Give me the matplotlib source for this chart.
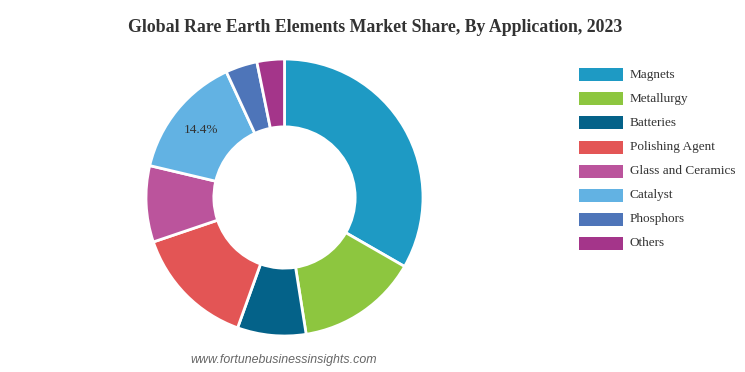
import matplotlib
matplotlib.use("Agg")
import matplotlib.pyplot as plt
from matplotlib.patches import Rectangle
import numpy as np

# data
labels = ["Magnets", "Metallurgy", "Batteries", "Polishing Agent",
          "Glass and Ceramics", "Catalyst", "Phosphors", "Others"]
shares = [33.3, 14.2, 8.0, 14.3, 8.9, 14.4, 3.7, 3.2]
colors = ["#1e9ac4", "#8dc63f", "#046289", "#e35555",
          "#bb549c", "#62b2e3", "#4e75b9", "#a4358a"]
shown_label = "Catalyst"

W, H = 745, 372
fig = plt.figure(figsize=(W / 100, H / 100), dpi=100)

# donut placement (pixels)
cx, cy, r = 284.5, 197.5, 138.5
ax = fig.add_axes([(cx - r) / W, (H - cy - r) / H, 2 * r / W, 2 * r / H])
wedges, _ = ax.pie(shares, colors=colors, startangle=90, counterclock=False,
                   radius=1, wedgeprops=dict(width=0.49, edgecolor="white", linewidth=2))
ax.set_xlim(-1, 1)
ax.set_ylim(-1, 1)
ax.set_aspect("equal")
ax.axis("off")

# the one printed percentage
i = labels.index(shown_label)
w = wedges[i]
ang = np.deg2rad((w.theta1 + w.theta2) / 2)
ax.text(0.75 * np.cos(ang) - 0.02, 0.75 * np.sin(ang) + 0.01, f"{shares[i]}%",
        ha="center", va="center", fontsize=9.5, family="Liberation Serif", color="#333333")

fig.text(375 / W, 1 - 27 / H, "Global Rare Earth Elements Market Share, By Application, 2023",
         ha="center", va="center", fontsize=12.8, fontweight="bold",
         family="Liberation Serif", color="#333333")

fig.text(284 / W, 1 - 360 / H, "www.fortunebusinessinsights.com", ha="center", va="center",
         fontsize=8.9, style="italic", family="Liberation Sans", color="#666666")

# legend
lx, ly0, step = 579, 74.7, 24.1
for k, (lab, col) in enumerate(zip(labels, colors)):
    y = ly0 + k * step
    fig.patches.append(Rectangle((lx / W, 1 - (y + 6.5) / H), 44 / W, 13 / H,
                                 transform=fig.transFigure, facecolor=col, edgecolor="none"))
    fig.text(630 / W, 1 - y / H, lab, ha="left", va="center", fontsize=9.5,
             family="Liberation Serif", color="#333333")

fig.savefig("out.png", dpi=100)
